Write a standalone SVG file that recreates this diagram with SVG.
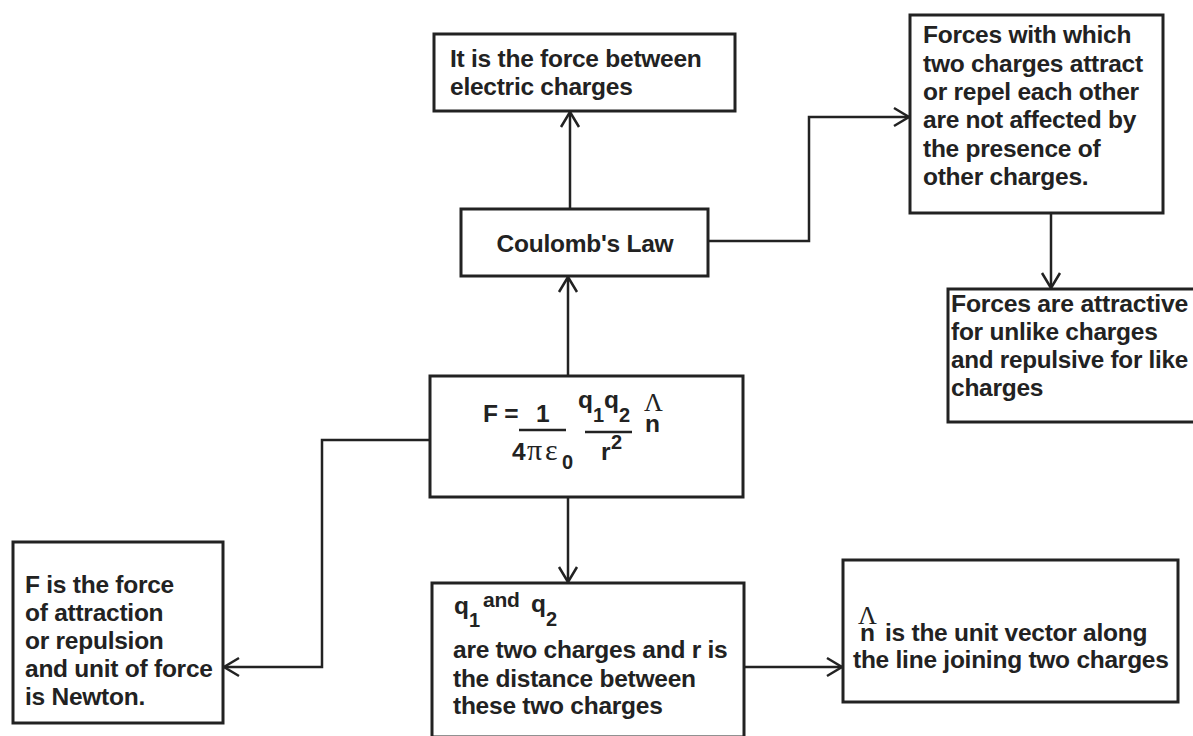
<svg xmlns="http://www.w3.org/2000/svg" width="1193" height="736" viewBox="0 0 1193 736">
<defs>
<marker id="arr" viewBox="0 0 16 18" refX="15" refY="9" markerWidth="16" markerHeight="18" markerUnits="userSpaceOnUse" orient="auto" overflow="visible">
<path d="M0,0 L15,9 L0,18" fill="none" stroke="#222" stroke-width="2.5"/>
</marker>
<style>
.box{fill:#fff;stroke:#222;stroke-width:3}
.t{font-family:"Liberation Sans",Arial,sans-serif;font-weight:bold;font-size:24.5px;letter-spacing:-0.25px;fill:#222}
.s{font-size:20px;letter-spacing:0}
.a{font-size:21px}
.g{font-family:"Liberation Serif","Times New Roman",serif;font-weight:normal;font-size:26px;fill:#222}
.p{font-size:30px}
.c{fill:none;stroke:#222;stroke-width:2.5}
.bar{stroke:#222;stroke-width:2.5}
</style>
</defs>
<rect width="1193" height="736" fill="#fff"/>
<g id="connectors">
<path class="c" d="M570,209 V112" marker-end="url(#arr)"/>
<path class="c" d="M568,376 V277" marker-end="url(#arr)"/>
<path class="c" d="M708,241 H809 V117 H909" marker-end="url(#arr)"/>
<path class="c" d="M1051,213 V288" marker-end="url(#arr)"/>
<path class="c" d="M430,440 H322 V667 H224" marker-end="url(#arr)"/>
<path class="c" d="M568,497 V582" marker-end="url(#arr)"/>
<path class="c" d="M744,667 H842" marker-end="url(#arr)"/>
</g>
<g id="node-definition">
<rect class="box" x="434" y="34" width="301" height="77"/>
<text class="t" x="450" y="67">It is the force between</text>
<text class="t" x="450" y="95">electric charges</text>
</g>
<g id="node-coulomb">
<rect class="box" x="461" y="209" width="247" height="67"/>
<text class="t" x="585" y="252" text-anchor="middle">Coulomb's Law</text>
</g>
<g id="node-superposition">
<rect class="box" x="910" y="15" width="253" height="198"/>
<text class="t" x="923" y="43">Forces with which</text>
<text class="t" x="923" y="72">two charges attract</text>
<text class="t" x="923" y="100">or repel each other</text>
<text class="t" x="923" y="128">are not affected by</text>
<text class="t" x="923" y="157">the presence of</text>
<text class="t" x="923" y="185">other charges.</text>
</g>
<g id="node-nature">
<rect class="box" x="948" y="289" width="260" height="133"/>
<text class="t" x="951" y="312" textLength="237" lengthAdjust="spacingAndGlyphs">Forces are attractive</text>
<text class="t" x="951" y="340">for unlike charges</text>
<text class="t" x="951" y="368" textLength="237" lengthAdjust="spacingAndGlyphs">and repulsive for like</text>
<text class="t" x="951" y="396">charges</text>
</g>
<g id="node-formula">
<rect class="box" x="430" y="376" width="313" height="121"/>
<text class="t" x="483" y="422">F =</text>
<text class="t" x="536" y="422">1</text>
<line class="bar" x1="519" y1="430" x2="566" y2="430"/>
<text class="t" x="512" y="460">4</text>
<text class="g p" x="527" y="460">π</text>
<text class="g p" x="545" y="460">ε</text>
<text class="t s" x="562" y="469">0</text>
<text class="t" x="578" y="408">q</text>
<text class="t s" x="593" y="422">1</text>
<text class="t" x="604" y="408">q</text>
<text class="t s" x="619" y="422">2</text>
<line class="bar" x1="585" y1="432" x2="632" y2="432"/>
<text class="t" x="601" y="460">r</text>
<text class="t s" x="611" y="449">2</text>
<text class="g" x="644" y="411">Λ</text>
<text class="t" x="645" y="432">n</text>
</g>
<g id="node-force">
<rect class="box" x="13" y="542" width="210" height="181"/>
<text class="t" x="25" y="593">F is the force</text>
<text class="t" x="25" y="621">of attraction</text>
<text class="t" x="25" y="649">or repulsion</text>
<text class="t" x="25" y="677">and unit of force</text>
<text class="t" x="25" y="705">is Newton.</text>
</g>
<g id="node-charges">
<rect class="box" x="432" y="583" width="312" height="154"/>
<text class="t" x="454" y="614">q</text>
<text class="t s" x="469" y="627">1</text>
<text class="t a" x="483" y="607">and</text>
<text class="t" x="531" y="612">q</text>
<text class="t s" x="546" y="626">2</text>
<text class="t" x="453" y="658">are two charges and r is</text>
<text class="t" x="453" y="687">the distance between</text>
<text class="t" x="453" y="714">these two charges</text>
</g>
<g id="node-unitvector">
<rect class="box" x="843" y="560" width="335" height="142"/>
<text class="g" x="858" y="624">Λ</text>
<text class="t" x="860" y="641">n</text>
<text class="t" x="885" y="641">is the unit vector along</text>
<text class="t" x="853" y="668">the line joining two charges</text>
</g>
</svg>
